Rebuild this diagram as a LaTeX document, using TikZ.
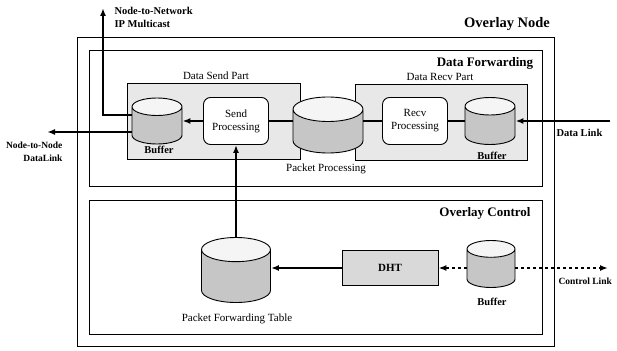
\documentclass[tikz,border=0pt]{standalone}
\usepackage{fontspec}
\setmainfont{Liberation Serif}
\usetikzlibrary{shapes.geometric}
\usetikzlibrary{arrows.meta}
\usetikzlibrary{positioning}
\usetikzlibrary{calc}

\begin{document}
\begin{tikzpicture}[x=1pt,y=1pt,
  frame/.style={draw,line width=0.8pt},
  part/.style={draw,line width=0.8pt,fill=gray!18},
  db/.style 2 args={cylinder,shape border rotate=90,draw,line width=0.9pt,aspect=0.35,
    cylinder uses custom fill,cylinder body fill=gray!45,cylinder end fill=gray!8,
    inner xsep=#1,inner ysep=0pt,minimum height=#2,anchor=shape center},
  proc/.style={draw,line width=0.9pt,rounded corners=7pt,fill=white,align=center,
    minimum width=65pt,minimum height=47pt,font=\fontsize{11}{13}\selectfont},
  link/.style={line width=1.6pt,-{Latex[length=8pt,width=6pt]}},
  ctl/.style={link,dash pattern=on 3pt off 3pt},
  title/.style={font=\bfseries\fontsize{13}{15}\selectfont},
  lbl/.style={font=\fontsize{11}{13}\selectfont},
  blbl/.style={font=\bfseries\fontsize{10.5}{13}\selectfont,align=left},
  edge label/.style={font=\bfseries\fontsize{9.5}{13}\selectfont}
]
\useasboundingbox (0,0) rectangle (617,-350);

% boxes
\draw[frame] (77,-37) rectangle (554,-346);
\draw[frame] (89,-50) rectangle (542,-186);
\draw[frame] (89,-200) rectangle (542,-334);
\draw[part] (127,-83) rectangle (300,-159);
\draw[part] (355,-84) rectangle (527,-160);

\node[title,font=\bfseries\fontsize{14.5}{16}\selectfont] (tnode) at (507,-24) {Overlay Node};
\node[title] (tfwd) at (485,-63) {Data Forwarding};
\node[title] (tctl) at (485,-213) {Overlay Control};
\node[lbl] (tsend) at (216,-76) {Data Send Part};
\node[lbl] (trecv) at (440,-77) {Data Recv Part};

% data forwarding
\node[db={25pt}{46pt}] (sbuf) at (157,-121) {};
\node[proc] (sproc) at (236,-121) {Send\\Processing};
\node[db={35pt}{56pt}] (ppc) at (328,-125) {};
\node[proc] (rproc) at (415,-121) {Recv\\Processing};
\node[db={25pt}{47pt}] (rbuf) at (490,-121) {};
\node[blbl] (lsbuf) at (159,-150) {Buffer};
\node[blbl] (lrbuf) at (492,-156) {Buffer};
\node[lbl] (lppc) at (326,-169) {Packet Processing};

% overlay control
\node[db={34.5pt}{65pt}] (pft) at (236,-270) {};
\node[draw,line width=0.9pt,fill=gray!30,minimum width=96pt,minimum height=35pt,
  font=\bfseries\fontsize{11}{13}\selectfont] (dht) at (390,-268) {DHT};
\node[db={24pt}{47pt}] (cbuf) at (491,-264) {};
\node[blbl] (lcbuf) at (492,-302) {Buffer};
\node[lbl] (lpft) at (237,-319) {Packet Forwarding Table};

% outside ends
\coordinate (nnet) at (103,-8);
\coordinate (nnode) at ($(sbuf.shape center)+(-110,-11)$);
\coordinate (dlink) at (610,-121);
\coordinate (clink) at (608,-268);
\node[blbl,anchor=north west] (lnnet) at (111,-4) {Node-to-Network\\IP Multicast};
\node[edge label,align=right,anchor=north east] (lnnode) at (66,-138) {Node-to-Node\\DataLink};
\node[blbl,anchor=west] (ldlink) at (553,-133) {Data Link};
\node[edge label,anchor=west] (lclink) at (555,-281) {Control Link};

% connectors
\draw[link] ($(sbuf.west |- sbuf.shape center)+(0,6)$) -| (nnet);
\draw[link] (nnode -| sbuf.west) -- (nnode);
\draw[link] (sproc.west) -- (sproc.west -| sbuf.east);
\draw[line width=1.6pt] (sproc.east) -- (sproc.east -| ppc.west);
\draw[line width=1.6pt] (rproc.west) -- (rproc.west -| ppc.east);
\draw[line width=1.6pt] (rproc.east) -- (rproc.east -| rbuf.west);
\draw[link] (dlink) -- (dlink -| rbuf.east);
\draw[link] (pft.north) -- (sproc.south);
\draw[link] (dht.west) -- (dht.west -| pft.east);
\draw[ctl] (dht.east -| cbuf.west) -- (dht.east);
\draw[ctl] (dht.east -| cbuf.east) -- (clink);
\end{tikzpicture}
\end{document}
